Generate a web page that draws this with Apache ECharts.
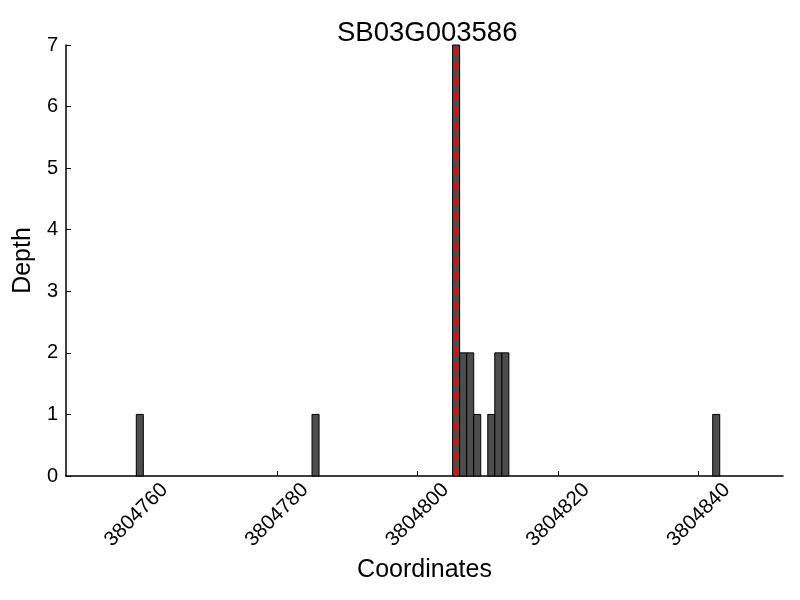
<!DOCTYPE html>
<html>
<head>
<meta charset="utf-8">
<script src="https://cdn.jsdelivr.net/npm/echarts@6/dist/echarts.min.js"></script>
<style>html,body{margin:0;padding:0;background:#fff;}#c{width:800px;height:600px;}</style>
</head>
<body>
<div id="c"></div>
<script>
const title = 'SB03G003586';
const positions = [3804760, 3804785, 3804805, 3804806, 3804807, 3804808, 3804810, 3804811, 3804812, 3804842];
const depths = [1, 1, 7, 2, 2, 1, 1, 2, 2, 1];
const markerPos = 3804805.5;
const xTicks = [3804760, 3804780, 3804800, 3804820, 3804840];
const xMin = 3804750, xMax = 3804852;
const yTicks = [0, 1, 2, 3, 4, 5, 6, 7];

const FONT = 'Liberation Sans, Arial, Helvetica, sans-serif';
const chart = echarts.init(document.getElementById('c'), null, {renderer: 'canvas'});
const barData = positions.map((p, i) => [p, depths[i]]);

chart.setOption({
  animation: false,
  backgroundColor: '#fff',
  title: {
    text: title, left: 332, top: 14,
    textStyle: {fontFamily: FONT, fontSize: 27.5, fontWeight: 'normal', color: '#000'}
  },
  grid: {left: 66, right: 17, top: 45, bottom: 124, containLabel: false},
  xAxis: {
    type: 'value', min: xMin, max: xMax,
    name: 'Coordinates', nameLocation: 'middle', nameGap: 78,
    nameTextStyle: {fontFamily: FONT, fontSize: 25, color: '#000'},
    axisLine: {show: true, onZero: false, lineStyle: {color: '#000', width: 1.5}},
    axisTick: {show: true, inside: true, length: 5, customValues: xTicks, lineStyle: {color: '#000', width: 1}},
    axisLabel: {
      customValues: xTicks, rotate: 45, align: 'center', verticalAlign: 'middle', margin: 39,
      fontFamily: FONT, fontSize: 20.5, color: '#000',
      formatter: v => String(v)
    },
    splitLine: {show: false}
  },
  yAxis: {
    type: 'value', min: 0, max: 7, interval: 1,
    name: 'Depth', nameLocation: 'middle', nameGap: 27,
    nameTextStyle: {fontFamily: FONT, fontSize: 25, color: '#000'},
    axisLine: {show: true, lineStyle: {color: '#000', width: 1.5}},
    axisTick: {show: true, inside: true, length: 5, lineStyle: {color: '#000', width: 1}},
    axisLabel: {fontFamily: FONT, fontSize: 20, color: '#000', margin: 8},
    splitLine: {show: false}
  },
  series: [
    {
      type: 'custom',
      data: barData,
      renderItem: function (params, api) {
        const x = api.value(0), y = api.value(1);
        const p0 = api.coord([x, 0]);
        const p1 = api.coord([x + 1, y]);
        return {
          type: 'rect',
          shape: {x: p0[0], y: p1[1], width: p1[0] - p0[0], height: p0[1] - p1[1]},
          style: {fill: '#4d4d4d', stroke: '#000', lineWidth: 1}
        };
      },
      z: 2
    },
    {
      type: 'line',
      data: [[markerPos, 0], [markerPos, 7]],
      symbol: 'none',
      lineStyle: {color: '#ff0000', width: 3, type: [9, 6]},
      z: 3
    }
  ]
});
</script>
</body>
</html>
